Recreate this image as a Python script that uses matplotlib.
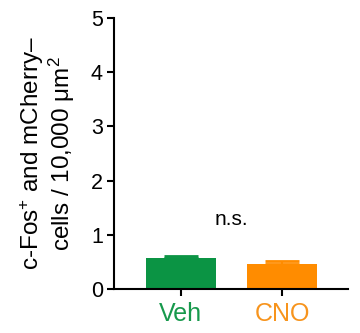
import matplotlib
matplotlib.use("Agg")
import matplotlib.pyplot as plt

groups = ["Veh", "CNO"]
means = [0.57, 0.47]
sem = [0.04, 0.05]
colors = ["#0b9444", "#ff8c00"]
label_colors = ["#17994c", "#f7941d"]
y_ticks = [0, 1, 2, 3, 4, 5]

plt.rcParams["font.family"] = ["Liberation Sans", "DejaVu Sans"]
plt.rcParams["mathtext.fontset"] = "custom"
plt.rcParams["mathtext.rm"] = "Liberation Sans"
plt.rcParams["mathtext.it"] = "Liberation Sans:italic"
plt.rcParams["mathtext.bf"] = "Liberation Sans:bold"

fig = plt.figure(figsize=(3.6, 3.33), dpi=100)
ax = fig.add_axes([0.3167, 0.1321, 0.65, 0.8139])

x = list(range(len(groups)))
ax.bar(x, means, width=0.69, color=colors, zorder=2)
for xi, m, e, c in zip(x, means, sem, colors):
    ax.errorbar(xi, m, yerr=[[0], [e]], fmt="none", ecolor=c,
                elinewidth=1.5, capsize=12, capthick=2, zorder=1)

ax.set_xlim(-0.662, 1.653)
ax.set_ylim(0, 5)
ax.set_yticks(y_ticks)
ax.set_xticks(x)
ax.set_xticklabels(groups, fontsize=18)
for lbl, c in zip(ax.get_xticklabels(), label_colors):
    lbl.set_color(c)
ax.tick_params(axis="y", labelsize=15.5, width=1.5, length=5, direction="out", pad=3)
ax.tick_params(axis="x", width=1.5, length=5, direction="out", pad=4)

for s in ["top", "right"]:
    ax.spines[s].set_visible(False)
for s in ["left", "bottom"]:
    ax.spines[s].set_linewidth(1.5)

ax.set_ylabel("c-Fos$^{+}$ and mCherry–\ncells / 10,000 μm$^{2}$",
              fontsize=17.5, linespacing=1.05, labelpad=10)

ax.text(0.5, 1.29, "n.s.", ha="center", va="center", fontsize=15)

fig.savefig("out.png", dpi=100)
